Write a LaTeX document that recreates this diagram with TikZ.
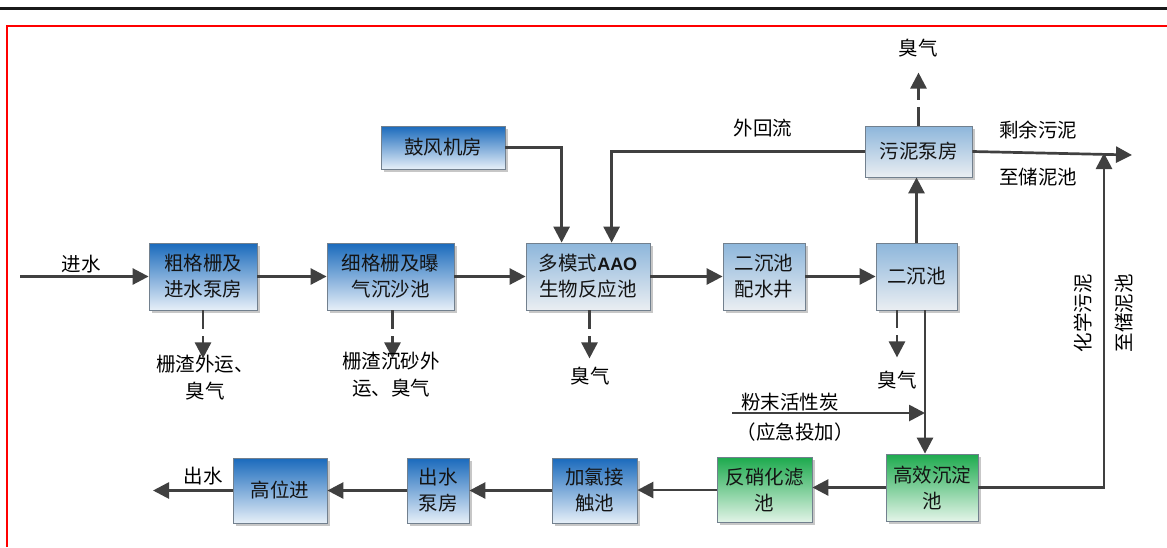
\documentclass[tikz,border=0pt]{standalone}
\usepackage{fontspec}
\setmainfont{Noto Sans CJK SC}
\newfontfamily\latinb{Liberation Sans}
\usetikzlibrary{arrows.meta,shadows,calc}
\definecolor{arrc}{HTML}{404040}
\definecolor{bordc}{HTML}{72808E}
\definecolor{bluetop}{HTML}{1A6ABC}
\definecolor{bluebot}{HTML}{E6EFF8}
\definecolor{lighttop}{HTML}{8DB6DB}
\definecolor{lightbot}{HTML}{EAEEF2}
\definecolor{greentop}{HTML}{1DAA4E}
\definecolor{greenbot}{HTML}{E3F4E8}
\definecolor{txtc}{HTML}{141414}
\begin{document}
\begin{tikzpicture}[x=1pt,y=-1pt,
  boxbase/.style={draw=bordc, line width=0.8pt, inner sep=0pt, align=center,
    font=\fontsize{19.5}{26}\selectfont, text=txtc,
    drop shadow={shadow xshift=2.5pt, shadow yshift=-2.5pt, opacity=0.22, fill=black}},
  bluebox/.style={boxbase, top color=bluetop, bottom color=bluebot},
  lightbox/.style={boxbase, top color=lighttop, bottom color=lightbot},
  greenbox/.style={boxbase, top color=greentop, bottom color=greenbot},
  flow/.style={draw=arrc, line width=2.7pt},
  flowarr/.style={flow, -{Triangle[length=16pt,width=16pt]}},
  lbl/.style={font=\fontsize{19.5}{27}\selectfont, align=center, inner sep=0pt, text=black}
]
\useasboundingbox (0,0) rectangle (1167,547);
\fill[white] (0,0) rectangle (1167,547);
% frame lines
\draw[line width=3pt, black!90] (0,8) -- (1167,8);
\draw[line width=1.8pt, red] (7,547) -- (7,26) -- (1167,26);

% boxes, main row
\node[bluebox, minimum width=108pt, minimum height=67pt] (coarse) at (203,276.5) {粗格栅及\\进水泵房};
\node[bluebox, minimum width=127pt, minimum height=67pt] (fine) at (390.5,276.5) {细格栅及曝\\气沉沙池};
\node[lightbox, minimum width=124pt, minimum height=67pt] (aao) at (588,276.5) {多模式{\latinb\bfseries\fontsize{18}{26}\selectfont AAO}\\生物反应池};
\node[lightbox, minimum width=82pt, minimum height=67pt] (pw) at (764,276.5) {二沉池\\配水井};
\node[lightbox, minimum width=81pt, minimum height=67pt] (s2) at (916.5,276.5) {二沉池};
\node[lightbox, minimum width=107pt, minimum height=51pt] (sludge) at (918.5,151.5) {污泥泵房};
\node[bluebox, minimum width=124pt, minimum height=43pt] (blower) at (443,147.5) {鼓风机房};
% bottom row
\node[greenbox, minimum width=92pt, minimum height=67pt] (hes) at (932,487.5) {高效沉淀\\池};
\node[greenbox, minimum width=95pt, minimum height=65pt] (denit) at (764.5,490) {反硝化滤\\池};
\node[bluebox, minimum width=85pt, minimum height=65pt] (chlor) at (594.5,490.5) {加氯接\\触池};
\node[bluebox, minimum width=62pt, minimum height=65pt] (outp) at (438,490.5) {出水\\泵房};
\node[bluebox, minimum width=94pt, minimum height=65pt] (high) at (280,490.5) {高位进};

% coordinates
\coordinate (inw) at (20,276.5);
\coordinate (aaoA) at ($(aao.north west)+(36,0)$);
\coordinate (aaoB) at ($(aao.north west)+(86,0)$);
\coordinate (s2d) at ($(s2.south)+(8.5,0)$);
\coordinate (carb) at (732,413);
\coordinate (sout) at (1132,155);
\coordinate (chemtop) at (1104,153);
\coordinate (outw) at (153,490.5);

% main flow
\draw[flowarr] (inw) -- (coarse.west);
\draw[flowarr] (coarse.east) -- (fine.west);
\draw[flowarr] (fine.east) -- (aao.west);
\draw[flowarr] (aao.east) -- (pw.west);
\draw[flowarr] (pw.east) -- (s2.west);
\draw[flowarr] (blower.east) -| (aaoA);
\draw[flowarr] (sludge.west) -| (aaoB);
\draw[flowarr] (s2.north) -- (s2.north |- sludge.south);
\draw[flowarr] (sludge.east) -- (sout);
\draw[flowarr] (s2d) -- (s2d |- hes.north);
\draw[flowarr] (carb) -- (carb -| s2d);
\draw[flowarr] (hes.east) -| (chemtop);
\draw[flowarr] (hes.west) -- (hes.west -| denit.east);
\draw[flowarr] (denit.west) -- (denit.west -| chlor.east);
\draw[flowarr] (chlor.west) -- (chlor.west -| outp.east);
\draw[flowarr] (outp.west) -- (outp.west -| high.east);
\draw[flowarr] (high.west) -- (outw);

% odor arrows with gap
\coordinate (c0) at (coarse.south);
\coordinate (c1) at ($(c0)+(0,19)$); \coordinate (c2) at ($(c0)+(0,26)$); \coordinate (c3) at ($(c0)+(0,48)$);
\draw[flow] (c0) -- (c1); \draw[flowarr] (c2) -- (c3);
\coordinate (f0) at ($(fine.south)+(2,0)$);
\coordinate (f1) at ($(f0)+(0,19)$); \coordinate (f2) at ($(f0)+(0,26)$); \coordinate (f3) at ($(f0)+(0,48)$);
\draw[flow] (f0) -- (f1); \draw[flowarr] (f2) -- (f3);
\coordinate (a0) at ($(aao.south)+(1.5,0)$);
\coordinate (a1) at ($(a0)+(0,19)$); \coordinate (a2) at ($(a0)+(0,26)$); \coordinate (a3) at ($(a0)+(0,48)$);
\draw[flow] (a0) -- (a1); \draw[flowarr] (a2) -- (a3);
\coordinate (e0) at ($(s2.south)+(-19.5,0)$);
\coordinate (e1) at ($(e0)+(0,18)$); \coordinate (e2) at ($(e0)+(0,25)$); \coordinate (e3) at ($(e0)+(0,47)$);
\draw[flow] (e0) -- (e1); \draw[flowarr] (e2) -- (e3);
\coordinate (t0) at (sludge.north);
\coordinate (t1) at ($(t0)+(0,-19)$); \coordinate (t2) at ($(t0)+(0,-26)$); \coordinate (t3) at ($(t0)+(0,-53)$);
\draw[flow] (t0) -- (t1); \draw[flowarr] (t2) -- (t3);

% labels
\node[lbl] (Lin) at (81,264) {进水};
\node[lbl] (Lc) at (205,377.5) {栅渣外运、\\臭气};
\node[lbl] (Lf) at (391,375) {栅渣沉砂外\\运、臭气};
\node[lbl] (La) at (590,376) {臭气};
\node[lbl] (Le) at (897,380) {臭气};
\node[lbl] (Lt) at (918,48) {臭气};
\node[lbl] (Lback) at (763,128) {外回流};
\node[lbl] (Lsur) at (1038,130) {剩余污泥};
\node[lbl] (Lsto) at (1038,177) {至储泥池};
\node[lbl, rotate=90] (Lchem) at (1083,313) {化学污泥};
\node[lbl, rotate=90] (Lsto2) at (1124,313) {至储泥池};
\node[lbl] (Lcarb) at (790,402) {粉末活性炭};
\node[lbl] (Lemer) at (795,432) {（应急投加）};
\node[lbl] (Lout) at (203,476) {出水};
\end{tikzpicture}
\end{document}
